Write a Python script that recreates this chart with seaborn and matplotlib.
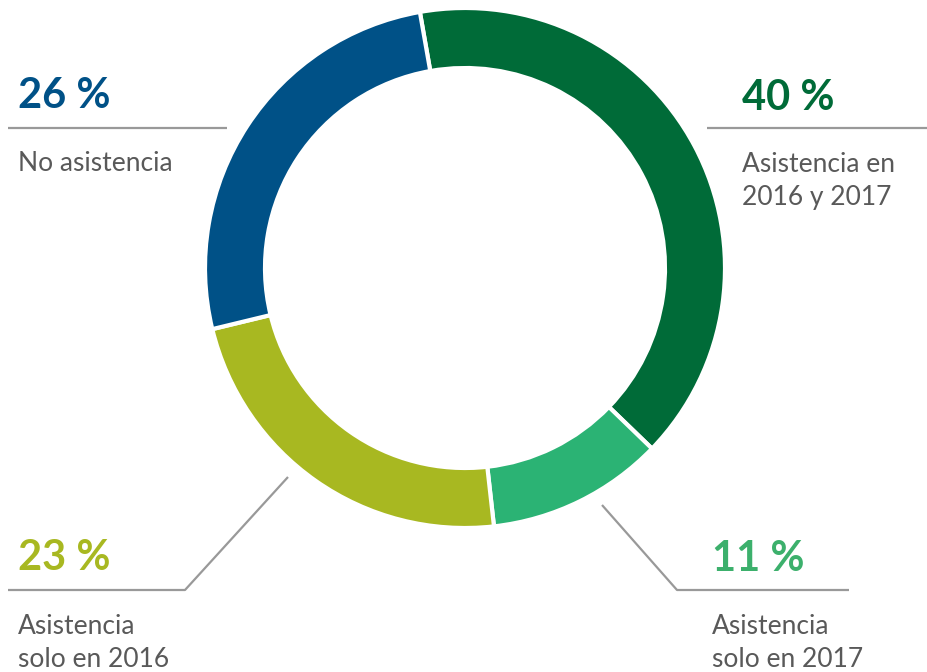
import matplotlib
matplotlib.use("Agg")
import matplotlib.pyplot as plt
import seaborn as sns

# Asistencia 2016 / 2017 (clockwise from the top)
categories = ["Asistencia en\n2016 y 2017", "Asistencia\nsolo en 2017", "Asistencia\nsolo en 2016", "No asistencia"]
shares = [40, 11, 23, 26]
colors = ["#006b38", "#2bb374", "#a8b821", "#005187"]
text_colors = ["#006b38", "#3cb06c", "#a8b821", "#005187"]

sns.set_theme(style="white")
plt.rcParams["font.family"] = ["Lato", "DejaVu Sans"]

W, H = 928, 672
fig = plt.figure(figsize=(W / 100, H / 100), dpi=100)
ax = fig.add_axes([0, 0, 1, 1])


def Y(py):
    # pixel row (from top) -> data y
    return H - py


ax.pie(
    shares,
    colors=colors,
    center=(465, Y(268)),
    radius=260,
    startangle=100,
    counterclock=False,
    wedgeprops=dict(width=60, edgecolor="white", linewidth=3),
)
ax.set_xlim(0, W)
ax.set_ylim(0, H)
ax.set_aspect("equal")
ax.axis("off")

line_color = "#999999"
label_color = "#595959"

# label anchors: (x, percent baseline, first label baseline)
anchors = [(742, 110, 172), (712, 571, 634), (18, 570, 634), (18, 108, 171)]
# leader lines in pixel coords
leaders = [
    [(707, 128), (928, 128)],
    [(602, 505), (677, 590), (849, 590)],
    [(288, 477), (185, 590), (8, 590)],
    [(8, 128), (227, 128)],
]

for cat, val, tc, (x, pb, lb), pts in zip(categories, shares, text_colors, anchors, leaders):
    ax.plot([p[0] for p in pts], [Y(p[1]) for p in pts], color=line_color, lw=1.6,
            solid_capstyle="butt")
    ax.text(x, Y(pb), f"{val} %", color=tc, fontsize=30, fontweight="bold", va="baseline", ha="left")
    for i, line in enumerate(cat.split("\n")):
        ax.text(x, Y(lb + i * 33), line, color=label_color, fontsize=19, va="baseline", ha="left")

fig.savefig("out.png", dpi=100)
